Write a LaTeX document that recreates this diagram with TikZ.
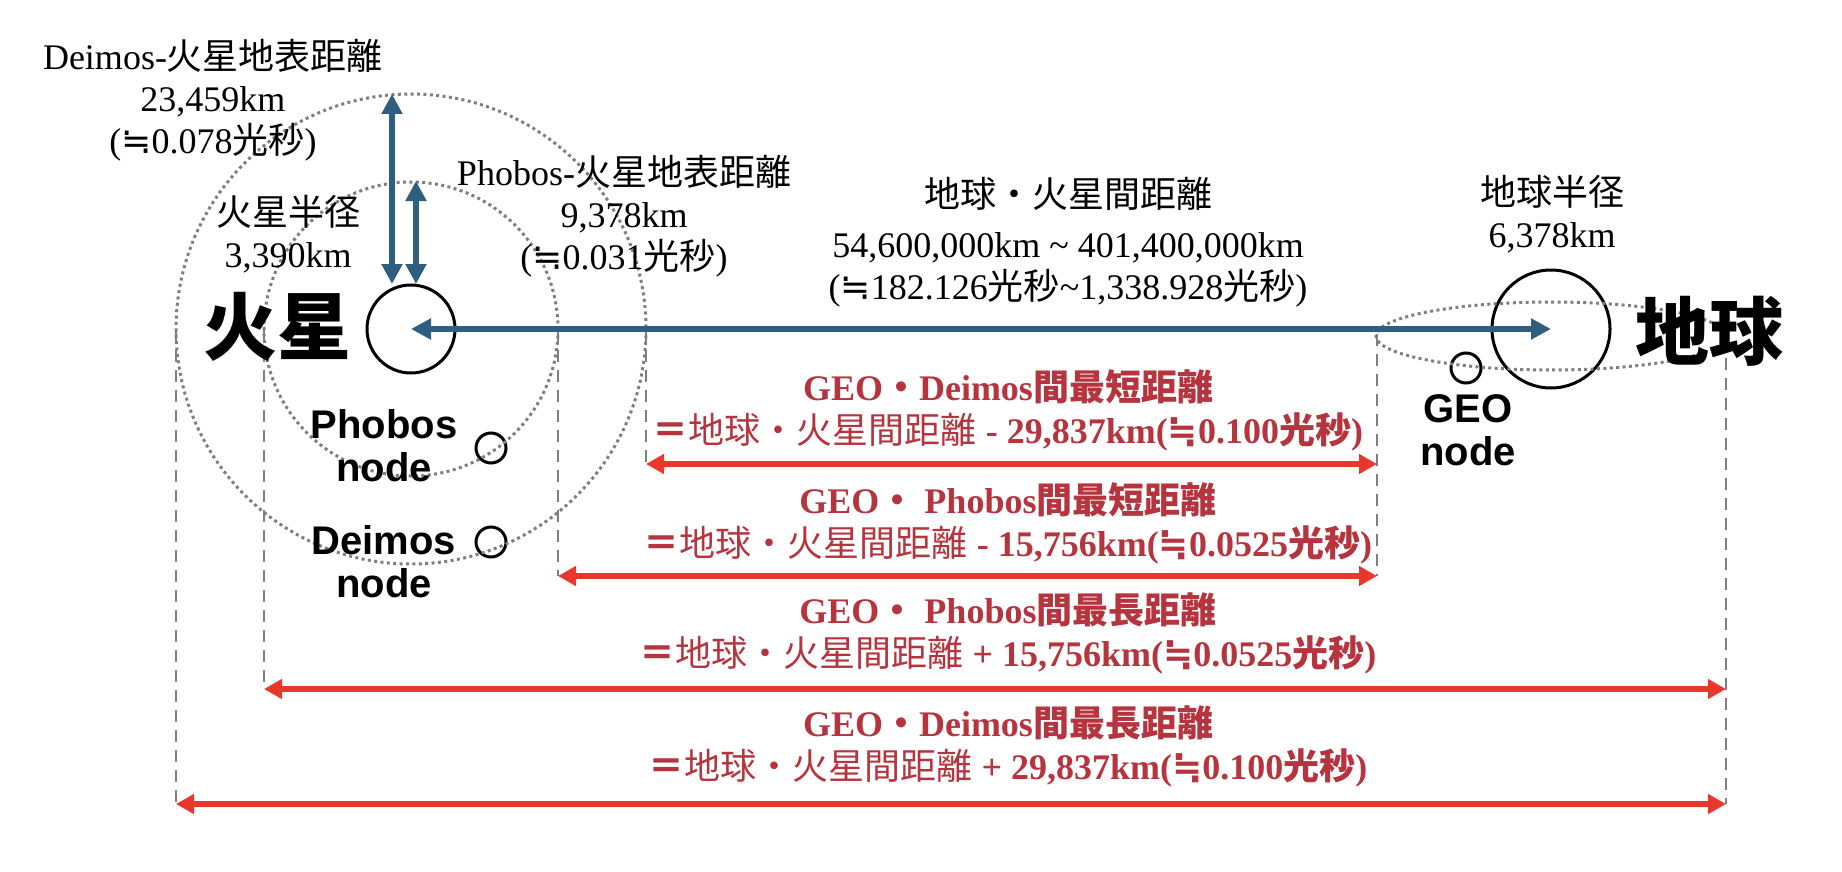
\documentclass[tikz,border=0pt]{standalone}
\usepackage{fontspec}
\setmainfont{Liberation Serif}
\newfontfamily\jp{Noto Sans CJK JP}
\newfontfamily\hv{Liberation Sans}
\newfontfamily\sym{DejaVu Sans}
\newcommand{\approxeq}{{\sym ≒}}
\usetikzlibrary{arrows.meta}
\definecolor{arrblue}{HTML}{2E5E80}
\definecolor{arrred}{HTML}{E8382B}
\definecolor{txtred}{HTML}{B6343E}
\definecolor{guide}{HTML}{7F7F7F}

\begin{document}
\begin{tikzpicture}[x=0.5pt,y=-0.5pt,
  lbl/.style={font=\fontsize{18}{21}\selectfont,align=center,inner sep=0pt},
  redlbl/.style={align=center,inner sep=0pt,text=txtred,font=\fontsize{18}{21.5}\selectfont\bfseries},
  bodylbl/.style={font=\jp\bfseries\fontsize{37}{40}\selectfont,inner sep=0pt},
  nodelbl/.style={font=\hv\bfseries\fontsize{20}{21.5}\selectfont,align=center,inner sep=0pt},
  body/.style={circle,draw,line width=1.5pt,inner sep=0pt},
  orbit/.style={draw=guide,line width=1.5pt,dash pattern=on 1.5pt off 1.7pt},
  guideline/.style={draw=guide,line width=1.3pt,dash pattern=on 6pt off 4pt},
  bluearr/.style={draw=arrblue,line width=2.8pt,{Triangle[length=10pt,width=10pt]}-{Triangle[length=10pt,width=10pt]}},
  redarr/.style={draw=arrred,line width=3pt,{Triangle[length=9pt,width=9.5pt]}-{Triangle[length=9pt,width=9.5pt]}}]
\useasboundingbox (0,0) rectangle (1842,872);

\node[body,minimum size=44pt] (mars) at (411,329) {};
\node[body,minimum size=59pt] (earth) at (1551,329) {};
\node[body,minimum size=15pt] (phobos) at (491,448) {};
\node[body,minimum size=15pt] (deimos) at (491,542) {};
\node[body,minimum size=15pt] (geo) at (1466,368) {};

\draw[orbit] (mars.center) circle[radius=147];
\draw[orbit] (mars.center) circle[radius=235];
\coordinate (geoorbit) at (1551,336);
\draw[orbit] (geoorbit) ellipse[x radius=175,y radius=34];

\coordinate (deimosL) at (176,330);
\coordinate (phobosL) at (264,330);
\coordinate (phobosR) at (558,330);
\coordinate (deimosR) at (646,330);
\coordinate (geoL) at (1377,334);
\coordinate (geoR) at (1726,358);
\coordinate (dminL) at (646,464);
\coordinate (dminR) at (1377,464);
\coordinate (pminL) at (558,576);
\coordinate (pminR) at (1377,576);
\coordinate (pmaxL) at (264,689);
\coordinate (pmaxR) at (1726,689);
\coordinate (dmaxL) at (176,804);
\coordinate (dmaxR) at (1726,804);

\draw[guideline] (deimosL) -- (dmaxL);
\draw[guideline] (phobosL) -- (pmaxL);
\draw[guideline] (phobosR) -- (pminL);
\draw[guideline] (deimosR) -- (dminL);
\draw[guideline] (geoL) -- (pminR);
\draw[guideline] (geoR) -- (dmaxR);

\draw[redarr] (dminL) -- (dminR);
\draw[redarr] (pminL) -- (pminR);
\draw[redarr] (pmaxL) -- (pmaxR);
\draw[redarr] (dmaxL) -- (dmaxR);

\coordinate (dtop) at (392,94);
\coordinate (dbot) at (392,284);
\coordinate (ptop) at (416,181);
\coordinate (pbot) at (416,284);
\draw[bluearr] (dtop) -- (dbot);
\draw[bluearr] (ptop) -- (pbot);
\draw[bluearr] (mars.center) -- (earth.center);

\node[lbl] (deimosdist) at (213,100) {Deimos-{\jp 火星地表距離}\\23,459km\\(\approxeq0.078{\jp 光秒})};
\node[lbl] (phobosdist) at (624,216) {Phobos-{\jp 火星地表距離}\\9,378km\\(\approxeq0.031{\jp 光秒})};
\node[lbl] (marsrad) at (288,234) {{\jp 火星半径}\\3,390km};
\node[lbl] (earthrad) at (1552,214) {{\jp 地球半径}\\6,378km};
\node[lbl] (emdist) at (1068,242) {{\jp 地球・火星間距離}\\[4pt]54,600,000km \textasciitilde{} 401,400,000km\\(\approxeq182.126{\jp 光秒}\textasciitilde 1,338.928{\jp 光秒})};

\node[bodylbl] (marslbl) at (277,327) {火星};
\node[bodylbl] (earthlbl) at (1709,331) {地球};
\node[nodelbl] (phoboslbl) at (384,446) {Phobos\\node};
\node[nodelbl] (deimoslbl) at (384,562) {Deimos\\node};
\node[nodelbl] (geolbl) at (1468,430) {GEO\\node};

\node[redlbl] (dmin) at (1008,410) {GEO{\jp ・}Deimos{\jp 間最短距離}\\{\jp ＝{\mdseries 地球・火星間距離}} - 29,837km(\approxeq0.100{\jp 光秒})};
\node[redlbl] (pmin) at (1008,523) {GEO{\jp ・} Phobos{\jp 間最短距離}\\{\jp ＝{\mdseries 地球・火星間距離}} - 15,756km(\approxeq0.0525{\jp 光秒})};
\node[redlbl] (pmax) at (1008,633) {GEO{\jp ・} Phobos{\jp 間最長距離}\\{\jp ＝{\mdseries 地球・火星間距離}} + 15,756km(\approxeq0.0525{\jp 光秒})};
\node[redlbl] (dmax) at (1008,746) {GEO{\jp ・}Deimos{\jp 間最長距離}\\{\jp ＝{\mdseries 地球・火星間距離}} + 29,837km(\approxeq0.100{\jp 光秒})};
\end{tikzpicture}
\end{document}
